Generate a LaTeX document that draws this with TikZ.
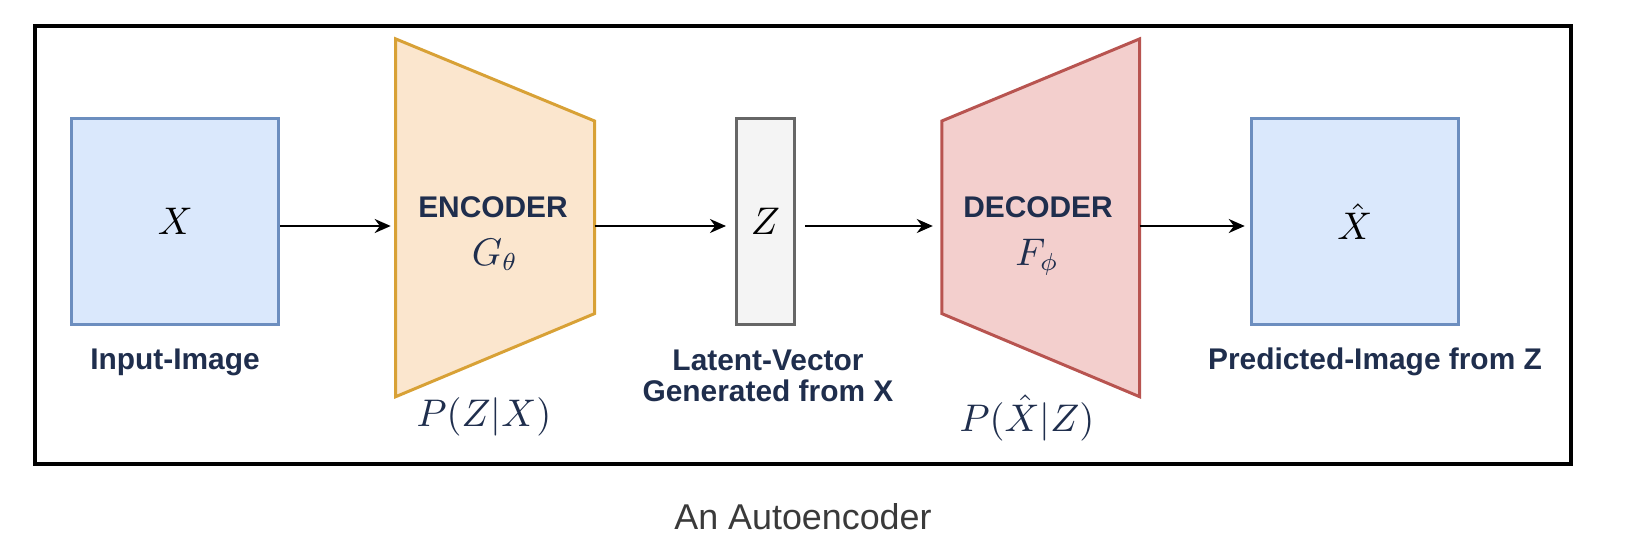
\documentclass[tikz,border=0pt]{standalone}
\usepackage{fontspec}
\setmainfont{Liberation Sans}
\usetikzlibrary{positioning,arrows.meta}
\definecolor{imgfill}{HTML}{DAE8FC}
\definecolor{imgdraw}{HTML}{6C8EBF}
\definecolor{encfill}{HTML}{FBE6CE}
\definecolor{encdraw}{HTML}{D8A136}
\definecolor{decfill}{HTML}{F3CFCD}
\definecolor{decdraw}{HTML}{B85450}
\definecolor{latfill}{HTML}{F4F4F4}
\definecolor{latdraw}{HTML}{666666}
\definecolor{navy}{HTML}{1F2E4D}
\definecolor{capgray}{HTML}{3A3A3A}
\begin{document}
\begin{tikzpicture}[
  x=0.01cm, y=-0.01cm,
  imgbox/.style={rectangle, draw=imgdraw, fill=imgfill, line width=0.85pt, minimum width=2.07cm, minimum height=2.05cm, inner sep=0pt, font=\fontsize{10.5}{12}\selectfont},
  latbox/.style={rectangle, draw=latdraw, fill=latfill, line width=0.85pt, minimum width=0.58cm, minimum height=2.05cm, inner sep=0pt, font=\fontsize{10.5}{12}\selectfont},
  encshape/.style={draw=encdraw, fill=encfill, line width=0.85pt},
  decshape/.style={draw=decdraw, fill=decfill, line width=0.85pt},
  lbl/.style={font=\fontsize{8.5}{10}\selectfont\bfseries, text=navy, inner sep=0pt, anchor=base},
  sym/.style={font=\fontsize{10.5}{12}\selectfont, text=navy, inner sep=0pt, anchor=base},
  arrow/.style={-{Stealth[length=0.16cm, width=0.14cm]}, line width=0.6pt}
]
  \useasboundingbox (0,0) rectangle (1650,548);

  % Cadre
  \draw[line width=1.2pt] (34.7,26.3) rectangle (1571,464);

  % Image d'entree
  \node[imgbox] (inp) at (175.3,221.5) {$X$};
  \node[lbl] (inplbl) at (175,369) {Input-Image};

  % Encodeur
  \draw[encshape] (395.7,38.9) -- (594.6,121) -- (594.6,313.6) -- (395.7,396.7) -- cycle;
  \coordinate (enc-w) at (395.7,226);
  \coordinate (enc-e) at (594.6,226);
  \node[lbl] (enctitle) at (493,217.5) {ENCODER};
  \node[sym] (encsym) at (495,265) {$G_\theta$};
  \node[sym] (encprob) at (484,426) {$P(Z|X)$};

  % Vecteur latent
  \node[latbox] (lat) at (765.5,221.5) {$Z$};
  \node[lbl] (latlbl) at (768,370) {Latent-Vector};
  \node[lbl] (latlbl2) at (768,401) {Generated from X};

  % Decodeur
  \draw[decshape] (941.8,121) -- (1139.6,38.9) -- (1139.6,396.7) -- (941.8,313.6) -- cycle;
  \coordinate (dec-w) at (941.8,226);
  \coordinate (dec-e) at (1139.6,226);
  \node[lbl] (dectitle) at (1038,217.5) {DECODER};
  \node[sym] (decsym) at (1037,265) {$F_\phi$};
  \node[sym] (decprob) at (1027,431) {$P(\hat{X}|Z)$};

  % Image predite
  \node[imgbox] (out) at (1354.8,221.5) {$\hat{X}$};
  \node[lbl] (outlbl) at (1375,369) {Predicted-Image from Z};

  % Fleches
  \draw[arrow, shorten >=0.05cm] (inp.east |- enc-w) -- (enc-w);
  \draw[arrow, shorten >=0.09cm] (enc-e) -- (lat.west |- enc-e);
  \draw[arrow, shorten <=0.09cm, shorten >=0.09cm] (lat.east |- dec-w) -- (dec-w);
  \draw[arrow, shorten >=0.05cm] (dec-e) -- (out.west |- dec-e);

  % Legende
  \node[font=\fontsize{10.2}{12}\selectfont, text=capgray, inner sep=0pt, anchor=base] (caption) at (803,529.5) {An Autoencoder};

\end{tikzpicture}
\end{document}
